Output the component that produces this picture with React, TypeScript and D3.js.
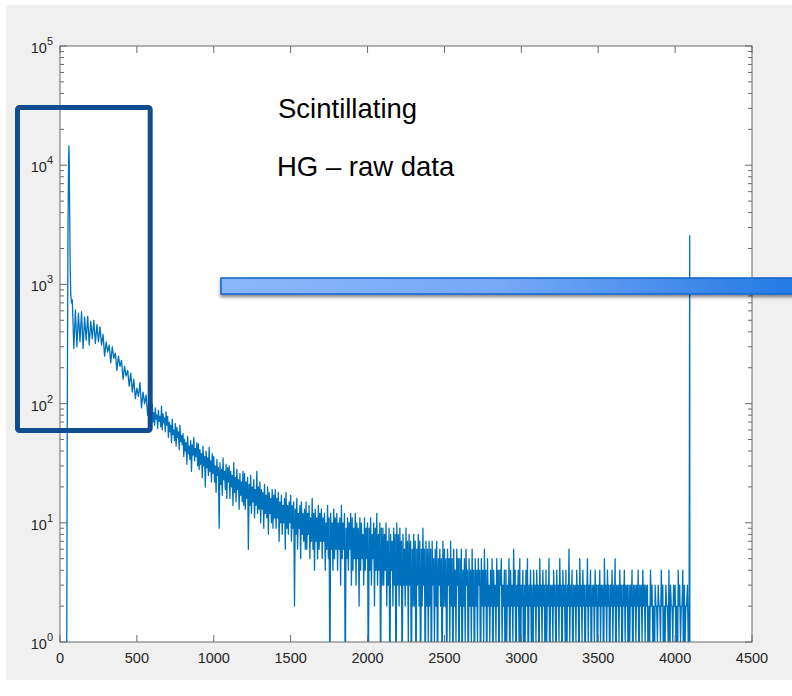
import React from "react";
import * as d3 from "d3";

// ---- data ----
const xTicks = [0, 500, 1000, 1500, 2000, 2500, 3000, 3500, 4000, 4500];
const yDecades = [0, 1, 2, 3, 4, 5];

// rising edge and main peak
const peakChannels = [30, 40, 44, 47, 52, 56, 58, 60, 63, 66, 70, 75];
const peakCounts = [0, 0, 1, 60, 3000, 11000, 14500, 11000, 4000, 1500, 820, 700];

// channels 80..590, every 10 channels
const earlyStart = 80;
const earlyStep = 10;
const earlyCounts = [
  740, 290, 610, 300, 570, 330, 590, 290, 530, 340, 540, 310, 490, 350, 500, 320, 460, 330, 440, 310,
  380, 250, 330, 270, 310, 220, 300, 240, 265, 190, 250, 205, 230, 160, 205, 170, 190, 140, 180, 125,
  160, 110, 135, 115, 150, 92, 125, 100, 118, 80, 112, 90,
];

// channels 600..4095, every 5 channels
const tailStart = 600;
const tailStep = 5;
const tailCounts = [
  98, 70, 84, 66, 92, 74, 80, 62, 88, 71, 78, 64, 95, 60, 82, 69, 76, 58, 85, 66,
  78, 52, 70, 58, 66, 47, 74, 55, 60, 49, 68, 44, 63, 52, 58, 41, 66, 48, 54, 45,
  56, 36, 50, 40, 47, 31, 53, 38, 44, 34, 49, 27, 45, 37, 52, 33, 42, 36, 47, 30,
  46, 28, 41, 31, 38, 24, 44, 30, 36, 20, 40, 29, 35, 25, 43, 27, 33, 22, 38, 26,
  36, 22, 30, 18, 34, 25, 29, 9, 32, 21, 28, 17, 35, 23, 27, 19, 31, 16, 29, 22,
  30, 16, 27, 20, 25, 14, 32, 18, 24, 15, 28, 19, 23, 13, 26, 17, 22, 15, 27, 14,
  26, 13, 22, 16, 24, 6, 21, 14, 25, 12, 20, 15, 23, 11, 19, 14, 27, 12, 20, 13,
  22, 10, 19, 13, 18, 9, 21, 12, 17, 11, 20, 8, 18, 12, 16, 10, 19, 9, 17, 11,
  19, 9, 16, 11, 18, 7, 15, 10, 17, 8, 14, 10, 16, 6, 18, 9, 14, 8, 15, 10,
  17, 7, 14, 9, 15, 2, 13, 8, 16, 6, 12, 9, 14, 5, 15, 8, 12, 7, 13, 6,
  15, 6, 12, 8, 14, 5, 11, 7, 16, 6, 12, 4, 13, 7, 11, 5, 14, 6, 12, 7,
  13, 5, 11, 7, 12, 4, 10, 6, 14, 5, 11, 0, 12, 6, 10, 4, 13, 5, 11, 6,
  12, 4, 10, 6, 11, 3, 14, 5, 10, 6, 12, 0, 9, 5, 11, 4, 10, 6, 12, 3,
  11, 4, 9, 5, 12, 3, 10, 5, 9, 2, 11, 4, 10, 5, 8, 3, 11, 4, 9, 5,
  10, 0, 9, 4, 11, 3, 8, 5, 10, 2, 9, 4, 12, 3, 8, 4, 10, 0, 9, 3,
  9, 3, 8, 4, 10, 2, 7, 3, 9, 0, 8, 4, 7, 2, 9, 3, 8, 0, 10, 3,
  8, 2, 9, 3, 7, 0, 8, 3, 6, 2, 9, 3, 7, 1, 8, 3, 7, 0, 6, 2,
  8, 2, 7, 0, 6, 3, 8, 2, 7, 0, 6, 2, 9, 3, 6, 0, 7, 2, 6, 1,
  7, 2, 6, 0, 7, 3, 5, 1, 6, 2, 7, 0, 5, 3, 6, 2, 5, 0, 7, 2,
  6, 2, 5, 0, 6, 3, 5, 1, 7, 2, 5, 0, 6, 2, 4, 1, 6, 3, 5, 0,
  5, 2, 6, 0, 4, 2, 5, 1, 6, 3, 4, 0, 5, 2, 4, 1, 6, 2, 4, 0,
  5, 2, 4, 1, 5, 3, 4, 0, 5, 2, 4, 1, 6, 2, 4, 0, 5, 2, 3, 1,
  4, 2, 5, 0, 4, 2, 3, 1, 5, 2, 4, 0, 4, 3, 5, 1, 3, 2, 4, 0,
  4, 1, 3, 2, 5, 0, 4, 2, 3, 1, 6, 2, 4, 0, 3, 2, 4, 1, 5, 0,
  3, 2, 4, 0, 3, 1, 4, 2, 5, 0, 3, 2, 4, 1, 3, 0, 4, 2, 3, 1,
  4, 2, 3, 0, 5, 2, 3, 1, 4, 2, 3, 0, 4, 1, 3, 2, 5, 0, 3, 2,
  3, 1, 4, 2, 3, 0, 4, 2, 3, 1, 5, 2, 3, 0, 4, 2, 3, 1, 4, 0,
  3, 2, 6, 1, 3, 2, 4, 0, 3, 2, 3, 1, 4, 2, 3, 0, 5, 2, 3, 1,
  4, 2, 3, 0, 3, 2, 5, 1, 3, 2, 4, 0, 3, 2, 3, 1, 4, 2, 3, 0,
  3, 2, 4, 1, 3, 2, 3, 0, 5, 2, 3, 1, 4, 2, 3, 0, 3, 2, 4, 1,
  3, 2, 5, 0, 3, 2, 3, 1, 4, 2, 3, 0, 3, 2, 4, 1, 3, 2, 3, 0,
  3, 1, 3, 2, 4, 0, 3, 2, 3, 1, 3, 2, 4, 0, 3, 2, 3, 1, 4, 2,
  3, 1, 3, 2, 3, 0, 2, 1, 4, 2, 3, 1, 2, 0, 3, 2, 2, 1, 3, 2,
  2, 1, 4, 2, 3, 0, 2, 1, 3, 2, 2, 1, 4, 0, 3, 2, 2, 1, 3, 2,
  3, 1, 2, 0, 4, 2, 3, 1, 2, 2, 4, 0, 3, 1, 2, 2, 3, 1, 0, 2570,
];

const endChannels = [4096];
const endCounts = [0];

const titleLines = ["Scintillating", "HG \u2013 raw data"];

// ---- layout ----
const W = 792;
const H = 696;
const L = 60, R = 752, T = 46, B = 642;

export default function App() {
  const x = d3.scaleLinear().domain([0, 4500]).range([L, R]);
  const y = d3.scaleLog().domain([1, 1e5]).range([B, T]);
  const yv = (v: number) => (v <= 0 ? B + 60 : y(v));

  const pts: [number, number][] = [];
  peakChannels.forEach((c, i) => pts.push([c, peakCounts[i]]));
  earlyCounts.forEach((v, i) => pts.push([earlyStart + i * earlyStep, v]));
  tailCounts.forEach((v, i) => pts.push([tailStart + i * tailStep, v]));
  endChannels.forEach((c, i) => pts.push([c, endCounts[i]]));

  const line = d3
    .line<[number, number]>()
    .x((d) => x(d[0]))
    .y((d) => yv(d[1]));

  const minor: number[] = [];
  for (let d = 0; d < 5; d++) for (let m = 2; m <= 9; m++) minor.push(m * Math.pow(10, d));

  const axisColor = "#6a6a6a";
  const textColor = "#262626";
  const font = "'Liberation Sans', Arial, Helvetica, sans-serif";

  return (
    <svg
      width={W}
      height={H}
      style={{ position: "absolute", left: 0, top: 0, background: "#fff" }}
      fontFamily={font}
    >
      <defs>
        <clipPath id="plotClip">
          <rect x={L} y={T} width={R - L} height={B - T} />
        </clipPath>
        <linearGradient id="barGrad" x1="0" x2="1" y1="0" y2="0">
          <stop offset="0" stopColor="#8cb6fb" />
          <stop offset="0.45" stopColor="#76a8f6" />
          <stop offset="1" stopColor="#1673e0" />
        </linearGradient>
        <filter id="shadow" x="-5%" y="-50%" width="110%" height="250%">
          <feDropShadow dx="0" dy="2.5" stdDeviation="1.6" floodColor="#000" floodOpacity="0.45" />
        </filter>
      </defs>

      {/* figure background */}
      <rect x={6} y={5} width={W - 6} height={680 - 5} fill="#f0f0f0" />
      {/* axes background */}
      <rect x={L} y={T} width={R - L} height={B - T} fill="#fff" />

      {/* data */}
      <g clipPath="url(#plotClip)">
        <path d={line(pts) || ""} fill="none" stroke="#0072BD" strokeWidth={1.3} strokeLinejoin="round" />
      </g>

      {/* box */}
      <rect x={L} y={T} width={R - L} height={B - T} fill="none" stroke={axisColor} strokeWidth={1} />

      {/* x ticks */}
      {xTicks.map((t) => (
        <g key={"xt" + t}>
          <line x1={x(t)} x2={x(t)} y1={B} y2={B - 7} stroke={axisColor} />
          <line x1={x(t)} x2={x(t)} y1={T} y2={T + 7} stroke={axisColor} />
          <text x={x(t)} y={B + 21} textAnchor="middle" fontSize={14.5} fill={textColor}>
            {t}
          </text>
        </g>
      ))}

      {/* y ticks */}
      {yDecades.map((d) => {
        const yy = y(Math.pow(10, d));
        return (
          <g key={"yt" + d}>
            <line x1={L} x2={L + 7} y1={yy} y2={yy} stroke={axisColor} />
            <line x1={R} x2={R - 7} y1={yy} y2={yy} stroke={axisColor} />
            <text x={53} y={yy + 7} textAnchor="end" fontSize={14.5} fill={textColor}>
              10
              <tspan dy={-8} fontSize={11}>
                {d}
              </tspan>
            </text>
          </g>
        );
      })}
      {minor.map((m) => (
        <g key={"ym" + m}>
          <line x1={L} x2={L + 4} y1={y(m)} y2={y(m)} stroke={axisColor} />
          <line x1={R} x2={R - 4} y1={y(m)} y2={y(m)} stroke={axisColor} />
        </g>
      ))}

      {/* annotations */}
      <text x={278} y={118} fontSize={27.5} fill="#000">
        {titleLines[0]}
      </text>
      <text x={277} y={176} fontSize={27.5} fill="#000">
        {titleLines[1]}
      </text>

      <rect
        x={17.5}
        y={107.5}
        width={150.2 - 17.5}
        height={430.5 - 107.5}
        rx={2}
        fill="none"
        stroke="#0f4d8f"
        strokeWidth={5}
      />

      <rect
        x={221}
        y={278}
        width={620}
        height={16}
        fill="url(#barGrad)"
        stroke="#1668cc"
        strokeWidth={1.6}
        filter="url(#shadow)"
      />
    </svg>
  );
}
